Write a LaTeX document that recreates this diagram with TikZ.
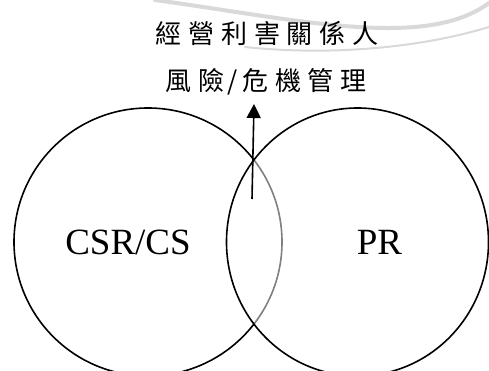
\documentclass[tikz,border=0pt]{standalone}
\usepackage{fontspec}
\setmainfont{Liberation Serif}
\newfontfamily\cjk{Noto Sans CJK TC}
\usetikzlibrary{shapes.geometric,arrows.meta}
\newcommand{\cjkgap}{\kern6.7pt}
\begin{document}
\begin{tikzpicture}[x=1pt,y=-1pt,
  ring/.style={draw=black,line width=1.6pt,inner sep=0pt,outer sep=0pt},
  cjktext/.style={font=\cjk\fontsize{26}{26}\selectfont,inner sep=0pt},
  label/.style={font=\fontsize{37}{37}\selectfont,inner sep=0pt,anchor=base},
  swoosh/.style={draw=black!15,line cap=round}]
\useasboundingbox (0,0) rectangle (489,371);
\fill[white] (0,0) rectangle (489,371);
% watermark arcs
\draw[swoosh,line width=4pt] (155,0) .. controls (300,20) and (425,50) .. (489,3);
\draw[swoosh,line width=2pt] (245,47) .. controls (330,56) and (420,48) .. (489,27);
% texts
\node[cjktext] (t1) at (267,33) {經\cjkgap 營\cjkgap 利\cjkgap 害\cjkgap 關\cjkgap 係\cjkgap 人};
\node[cjktext] (t2) at (266,82) {風\cjkgap 險\kern3pt/\kern5pt 危\cjkgap 機\cjkgap 管\cjkgap 理};
% circles
\node[ring,circle,minimum size=268pt] (L) at (148,242) {};
\node[ring,ellipse,minimum width=262pt,minimum height=268pt,fill=white,fill opacity=0.5] (R) at (357.5,242) {};
\node[label] (csr) at (128,254) {CSR/CS};
\node[label] (pr) at (379.5,254) {PR};
% arrow
\coordinate (aS) at (252,199);
\coordinate (aE) at (254,104);
\draw[line width=1.6pt,-{Triangle[width=14pt,length=14pt]}] (aS) -- (aE);
\end{tikzpicture}
\end{document}
